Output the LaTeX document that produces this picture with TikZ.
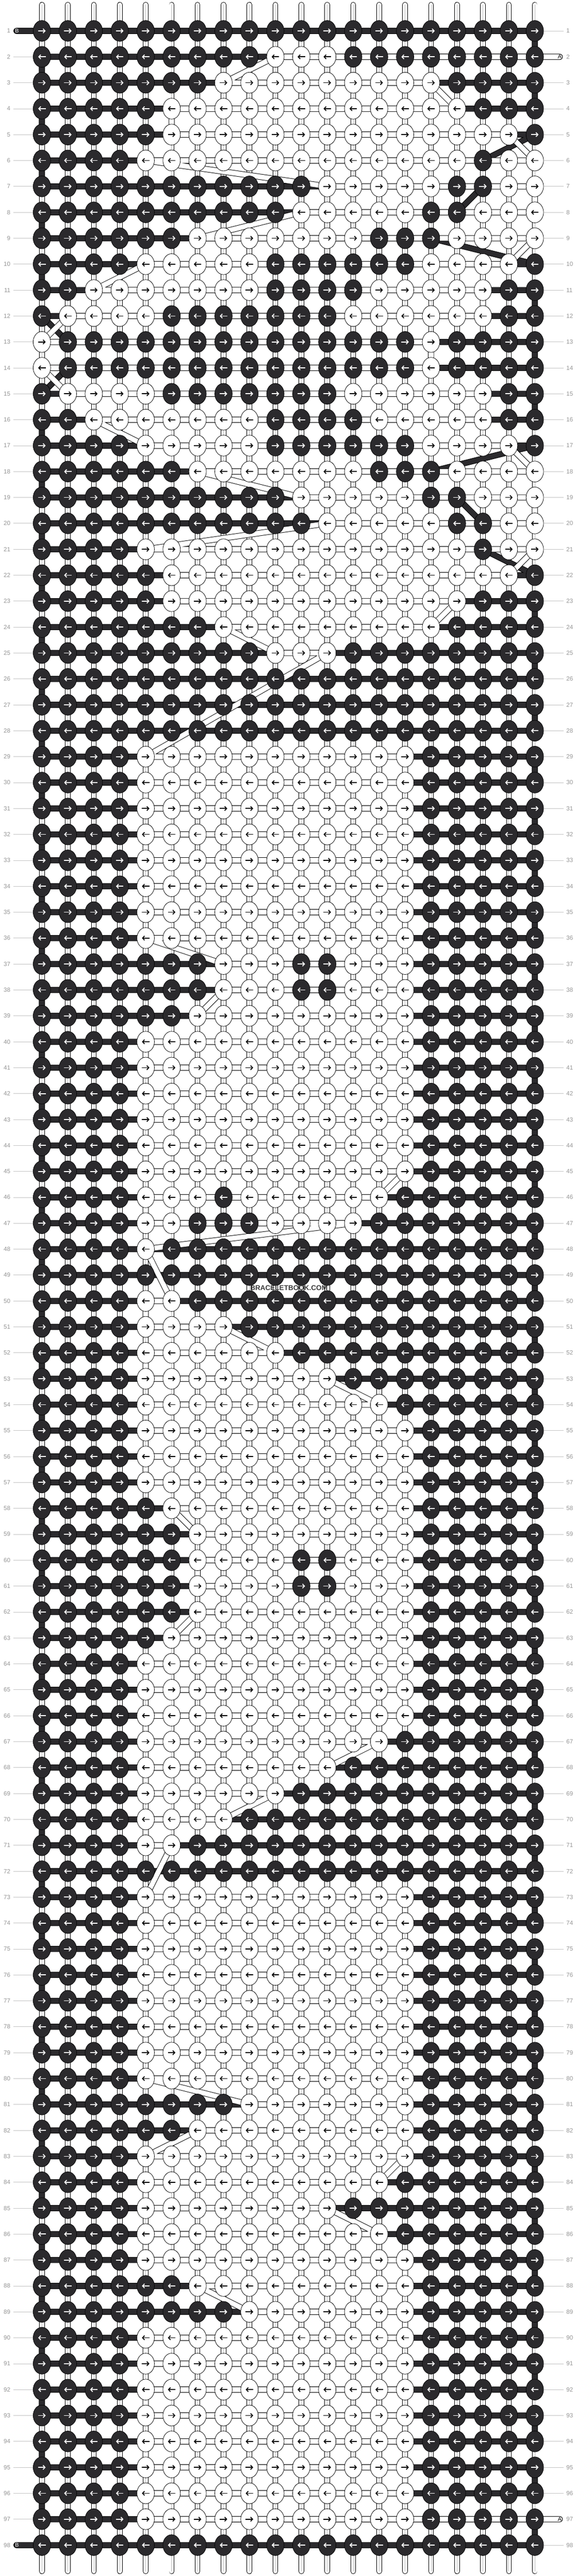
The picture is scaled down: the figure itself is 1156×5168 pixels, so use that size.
\documentclass[tikz,border=0pt]{standalone}
\usepackage{fontspec}
\setmainfont{Liberation Sans}
\usetikzlibrary{arrows.meta}
\definecolor{bbdark}{RGB}{43,42,45}
\definecolor{bbcore}{RGB}{185,185,185}
\definecolor{bblbl}{RGB}{150,150,150}
\definecolor{bbline}{RGB}{195,195,195}
\definecolor{bbmark}{RGB}{60,60,60}
\tikzset{
  arr/.style={line width=1.8pt,-{Straight Barb[length=4pt,width=8.5pt]}},
  lbl/.style={font=\fontsize{12}{12}\selectfont,text=bblbl,inner sep=0pt},
  guide/.style={draw=bbline,line width=0.8pt},
  basestr/.style={line cap=round},
}
\newcommand\bbknot[4]{%
  \ifnum#3=1 \def\bbkf{bbdark}\def\bbac{white}\else\def\bbkf{white}\def\bbac{black}\fi
  \filldraw[fill=\bbkf,draw=black,line width=0.8pt] (#1,#2) ellipse [x radius=17.5pt,y radius=21pt];
  \ifnum#4=1 \draw[arr,draw=\bbac] (#1-7.5,#2)--(#1+7.5,#2);\else\draw[arr,draw=\bbac] (#1+7.5,#2)--(#1-7.5,#2);\fi
}
\newcommand\bbstringB[1]{%
  \draw[line width=12pt,line cap=round,line join=round,draw=black] #1;
  \draw[line width=10pt,line cap=round,line join=round,draw=bbdark] #1;}
\newcommand\bbstringA[1]{%
  \draw[line width=12pt,line cap=round,line join=round,draw=black] #1;
  \draw[line width=10pt,line cap=round,line join=round,draw=white] #1;}
\ExplSyntaxOn
\seq_new:N \g_bb_rows_seq
\cs_new_protected:Npn \bb_row:nn #1#2
  { \prg_replicate:nn {#1} { \seq_gput_right:Nn \g_bb_rows_seq {#2} } }
\bb_row:nn {1}{11111111111111111111} % 1
\bb_row:nn {1}{11111111100011111111} % 2
\bb_row:nn {1}{11111110000000001111} % 3
\bb_row:nn {1}{11111000000000000111} % 4
\bb_row:nn {1}{11111000000000000001} % 5
\bb_row:nn {1}{11110000000000000100} % 6
\bb_row:nn {1}{11111111111000001100} % 7
\bb_row:nn {1}{11111111110000011000} % 8
\bb_row:nn {1}{11111100000001110000} % 9
\bb_row:nn {1}{11110000011111100001} % 10
\bb_row:nn {1}{11000000011110000011} % 11
\bb_row:nn {1}{10000111111100000011} % 12
\bb_row:nn {1}{01111111111111101111} % 13
\bb_row:nn {1}{01111111111111101111} % 14
\bb_row:nn {1}{10000111111100000011} % 15
\bb_row:nn {1}{11000000011110000011} % 16
\bb_row:nn {1}{11110000011111100001} % 17
\bb_row:nn {1}{11111100000001110000} % 18
\bb_row:nn {1}{11111111110000011000} % 19
\bb_row:nn {1}{11111111111000001100} % 20
\bb_row:nn {1}{11110000000000000100} % 21
\bb_row:nn {1}{11111000000000000001} % 22
\bb_row:nn {1}{11111000000000000111} % 23
\bb_row:nn {1}{11111110000000001111} % 24
\bb_row:nn {1}{11111111100011111111} % 25
\bb_row:nn {3}{11111111111111111111} % 26-28
\bb_row:nn {8}{11110000000000011111} % 29-36
\bb_row:nn {2}{11111110001100011111} % 37-38
\bb_row:nn {1}{11111100000000011111} % 39
\bb_row:nn {6}{11110000000000011111} % 40-45
\bb_row:nn {1}{11110001000000111111} % 46
\bb_row:nn {1}{11110011100001111111} % 47
\bb_row:nn {1}{11110111111111111111} % 48
\bb_row:nn {1}{11111111111111111111} % 49
\bb_row:nn {1}{11110011111111111111} % 50
\bb_row:nn {1}{11110000111111111111} % 51
\bb_row:nn {1}{11110000001111111111} % 52
\bb_row:nn {1}{11110000000011111111} % 53
\bb_row:nn {1}{11110000000000111111} % 54
\bb_row:nn {3}{11110000000000011111} % 55-57
\bb_row:nn {1}{11111000000000011111} % 58
\bb_row:nn {1}{11111100000000011111} % 59
\bb_row:nn {2}{11111100001100011111} % 60-61
\bb_row:nn {1}{11111100000000011111} % 62
\bb_row:nn {1}{11111000000000011111} % 63
\bb_row:nn {3}{11110000000000011111} % 64-66
\bb_row:nn {1}{11110000000000111111} % 67
\bb_row:nn {1}{11110000000011111111} % 68
\bb_row:nn {1}{11110000001111111111} % 69
\bb_row:nn {1}{11110000111111111111} % 70
\bb_row:nn {1}{11110011111111111111} % 71
\bb_row:nn {1}{11111111111111111111} % 72
\bb_row:nn {8}{11110000000000011111} % 73-80
\bb_row:nn {1}{11111111000000011111} % 81
\bb_row:nn {1}{11111100000000011111} % 82
\bb_row:nn {1}{11110000000000011111} % 83
\bb_row:nn {1}{11110000000000111111} % 84
\bb_row:nn {1}{11110000000011111111} % 85
\bb_row:nn {1}{11110000000000111111} % 86
\bb_row:nn {1}{11110000000000011111} % 87
\bb_row:nn {1}{11111100000000011111} % 88
\bb_row:nn {1}{11111111000000011111} % 89
\bb_row:nn {8}{11110000000000011111} % 90-97
\bb_row:nn {1}{11111111111111111111} % 98
\tl_new:N \g_bb_row_tl
\tl_new:N \g_bb_knots_tl
\tl_new:N \g_bb_patha_tl
\tl_new:N \g_bb_pathb_tl
\int_new:N \g_bb_c_int
\tl_gset:Nn \g_bb_patha_tl {(1122,114)}
\tl_gset:Nn \g_bb_pathb_tl {(33,62)}
\int_step_inline:nn {98}
  {
    \tl_gset:Nx \g_bb_row_tl { \seq_item:Nn \g_bb_rows_seq {#1} }
    \int_step_inline:nn {20}
      {
        \int_gset:Nn \g_bb_c_int { \int_if_odd:nTF {#1} {##1} {21-##1} }
        \int_compare:nNnTF { \tl_item:Nn \g_bb_row_tl { \g_bb_c_int } } = {1}
          { \tl_gput_right:Nx \g_bb_pathb_tl { --( \int_eval:n {32+52*\g_bb_c_int} , \int_eval:n {10+52*#1} ) } }
          { \tl_gput_right:Nx \g_bb_patha_tl { --( \int_eval:n {32+52*\g_bb_c_int} , \int_eval:n {10+52*#1} ) } }
        \tl_gput_right:Nx \g_bb_knots_tl
          {
            \exp_not:N \bbknot
              { \int_eval:n {32+52*\g_bb_c_int} }
              { \int_eval:n {10+52*#1} }
              { \tl_item:Nn \g_bb_row_tl { \g_bb_c_int } }
              { \int_if_odd:nTF {#1} {1} {0} }
          }
      }
  }
\tl_gput_right:Nn \g_bb_patha_tl {--(1122,5054)}
\tl_gput_right:Nn \g_bb_pathb_tl {--(33,5106)}
\cs_new_protected:Npn \bbdrawpaths
  {
    \exp_args:NV \bbstringB \g_bb_pathb_tl
    \exp_args:NV \bbstringA \g_bb_patha_tl
  }
\cs_new_protected:Npn \bbdrawknots { \tl_use:N \g_bb_knots_tl }
\ExplSyntaxOff
\begin{document}
\begin{tikzpicture}[x=1pt,y=-1pt]
\useasboundingbox (0,0) rectangle (1156,5168);
\fill[white] (0,0) rectangle (1156,5168);
% vertical base strings
\foreach \c in {0,...,19}{
  \pgfmathsetmacro\bx{84+52*\c}
  \draw[basestr,line width=11pt,black] (\bx,9.5)--(\bx,5158.5);
  \draw[basestr,line width=9pt,white] (\bx,9.5)--(\bx,5158.5);
  \draw[line width=0.8pt,bbcore] (\bx,9)--(\bx,5159);
}
% row numbers and guide lines
\foreach \r in {1,...,98}{
  \pgfmathsetmacro\ry{62+52*(\r-1)}
  \node[lbl,anchor=east] (left\r) at (21,\ry) {\r};
  \node[lbl,anchor=west] (right\r) at (1135,\ry) {\r};
  \ifnum\r=1 \else\ifnum\r=98 \else\draw[guide] (27,\ry)--(66,\ry);\fi\fi
  \ifnum\r=2 \else\ifnum\r=97 \else\draw[guide] (1090,\ry)--(1130,\ry);\fi\fi
}
% knotting strings B (dark) and A (white)
\bbdrawpaths
% knots
\bbdrawknots
% string end letters
\node[font=\fontsize{11}{11}\selectfont,text=white,inner sep=0pt] (tailBtop) at (34,62) {B};
\node[font=\fontsize{11}{11}\selectfont,text=white,inner sep=0pt] (tailBbot) at (34,5106) {B};
\node[font=\fontsize{11}{11}\selectfont,text=black,inner sep=0pt] (tailAtop) at (1122,114) {A};
\node[font=\fontsize{11}{11}\selectfont,text=black,inner sep=0pt] (tailAbot) at (1122,5054) {A};
% watermark
\node[font=\bfseries\fontsize{14}{14}\selectfont,text=bbmark,inner sep=0pt] (mark) at (579,2584) {BRACELETBOOK.COM};
\end{tikzpicture}
\end{document}
